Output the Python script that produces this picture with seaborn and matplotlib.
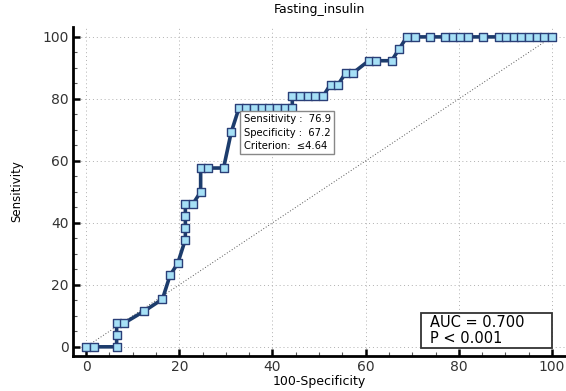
import matplotlib
matplotlib.use('Agg')
import matplotlib.pyplot as plt
import numpy as np
import pandas as pd
import seaborn as sns
from matplotlib.patches import Rectangle

# ROC points (100-Specificity, Sensitivity)
fpr = [0, 1.64, 6.56, 6.56, 6.56, 8.20, 12.5, 16.39, 18.03, 19.67,
       21.31, 21.31, 21.31, 21.31, 22.95, 24.59, 24.59, 26.23, 29.51, 31.15,
       32.79, 34.43, 36.07, 37.70, 39.34, 40.98, 42.62, 44.26,
       44.26, 45.90, 47.54, 49.18, 50.82,
       52.46, 54.10, 55.74, 57.38,
       60.66, 62.30, 65.57, 67.21,
       68.85, 70.49, 73.77, 77.05, 78.69, 80.33, 81.97, 85.25,
       88.52, 90.16, 91.80, 93.44, 95.08, 96.72, 98.36, 100]
tpr = [0, 0, 0, 3.85, 7.69, 7.69, 11.54, 15.38, 23.08, 26.92,
       34.62, 38.46, 42.31, 46.15, 46.15, 50.0, 57.69, 57.69, 57.69, 69.23,
       76.92, 76.92, 76.92, 76.92, 76.92, 76.92, 76.92, 76.92,
       80.77, 80.77, 80.77, 80.77, 80.77,
       84.62, 84.62, 88.46, 88.46,
       92.31, 92.31, 92.31, 96.15,
       100, 100, 100, 100, 100, 100, 100, 100,
       100, 100, 100, 100, 100, 100, 100, 100]

df = pd.DataFrame({'fpr': fpr, 'tpr': tpr})
ticks = [0, 20, 40, 60, 80, 100]

fig = plt.figure(figsize=(5.66, 3.91), dpi=100)
ax = fig.add_axes([0.129, 0.09, 0.871, 0.841])

# diagonal reference
ax.plot([0, 100], [0, 100], ls=(0, (1, 2)), color='#555555', lw=0.7, zorder=1)

sns.lineplot(x='fpr', y='tpr', data=df, sort=False, estimator=None,
             color='#1c3c6c', lw=2.6, ax=ax, zorder=2)
sns.scatterplot(x='fpr', y='tpr', data=df, marker='s', s=40,
                color='#a6e0f6', edgecolor='#2a3f78', linewidth=1.0,
                ax=ax, zorder=3)

ax.set_xlim(-2.8, 103)
ax.set_ylim(-2.9, 103.2)
ax.set_xticks(ticks)
ax.set_yticks(ticks)
ax.set_xticks(np.arange(0, 101, 5), minor=True)
ax.set_yticks(np.arange(0, 101, 5), minor=True)
ax.grid(True, which='major', ls=(0, (1, 3)), color='#b0b0b0', lw=0.7)
ax.set_axisbelow(True)

for s in ['top', 'right']:
    ax.spines[s].set_visible(False)
for s in ['left', 'bottom']:
    ax.spines[s].set_linewidth(2)

ax.tick_params(which='major', direction='in', length=5, width=1.8, pad=3,
               labelsize=10, labelcolor='#333333')
ax.tick_params(which='minor', direction='in', length=3, width=0.8, color='#555555')

ax.set_xlabel('100-Specificity', fontsize=9, labelpad=1)
ax.set_ylabel('Sensitivity', fontsize=8.5, labelpad=14)
ax.set_title('Fasting_insulin', fontsize=9, pad=10)

ax.text(33.8, 75.0, 'Sensitivity :  76.9\nSpecificity :  67.2\nCriterion:  \u22644.64',
        fontsize=7.2, va='top', ha='left', linespacing=1.4, zorder=5,
        bbox=dict(boxstyle='square,pad=0.35', fc='white', ec='#888888', lw=1))

# AUC box
ax.add_patch(Rectangle((71.8, -0.3), 28.2, 11.3, fc='white', ec='#333333',
                       lw=1.3, zorder=5))
ax.text(73.8, 8.0, 'AUC = 0.700', fontsize=10.5, va='center', ha='left', zorder=6)
ax.text(73.8, 2.7, 'P < 0.001', fontsize=10.5, va='center', ha='left', zorder=6)

fig.savefig('out.png', dpi=100)
